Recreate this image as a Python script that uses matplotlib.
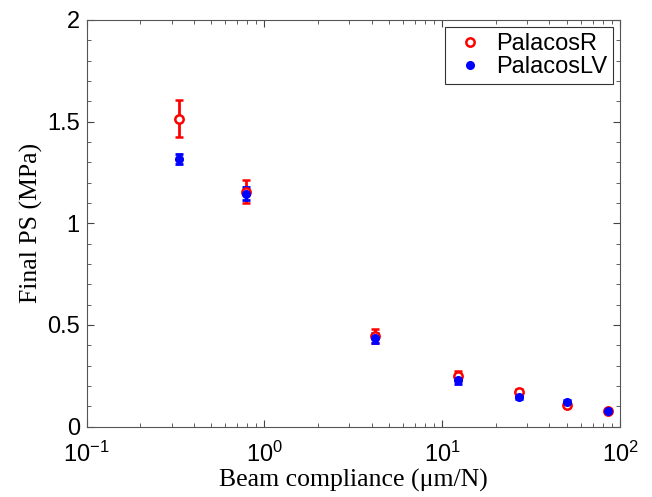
import matplotlib
matplotlib.use("Agg")
from matplotlib import pyplot as plt
import matplotlib.lines as mlines
from matplotlib.ticker import LogLocator, MultipleLocator, NullFormatter

# beam compliance (um/N)
compliance = [0.33, 0.79, 4.2, 12.3, 27.0, 50.0, 85.0]

# final PS (MPa) and error bars
palacos_r = [1.515, 1.156, 0.445, 0.250, 0.172, 0.105, 0.076]
palacos_r_err = [0.090, 0.057, 0.036, 0.022, 0.015, 0.008, 0.006]

palacos_lv = [1.315, 1.146, 0.437, 0.228, 0.145, 0.120, 0.077]
palacos_lv_err = [0.024, 0.032, 0.026, 0.020, 0.008, 0.009, 0.006]

y_ticks = [0, 0.5, 1, 1.5, 2]
y_ticklabels = ['0', '0.5', '1', '1.5', '2']

sans = ['Liberation Sans', 'DejaVu Sans']
serif = ['Liberation Serif', 'DejaVu Serif']

plt.rcParams['mathtext.fontset'] = 'custom'
plt.rcParams['mathtext.rm'] = 'Liberation Sans'
plt.rcParams['mathtext.it'] = 'Liberation Sans:italic'
plt.rcParams['mathtext.bf'] = 'Liberation Sans:bold'
plt.rcParams['mathtext.default'] = 'regular'

fig = plt.figure(figsize=(6.52, 4.97), dpi=100)
ax = fig.add_axes([0.133, 0.1415, 0.818, 0.8185])

ax.errorbar(compliance, palacos_r, yerr=palacos_r_err, fmt='o', color='red',
            mfc='white', mec='red', ms=6, mew=1.8, elinewidth=2,
            capsize=3, capthick=2)
ax.errorbar(compliance, palacos_lv, yerr=palacos_lv_err, fmt='o', color='blue',
            mfc='blue', mec='blue', ms=5.5, elinewidth=2,
            capsize=3, capthick=2)

ax.set_xscale('log')
ax.set_xlim(0.1, 100)
ax.set_ylim(0, 2)
ax.xaxis.set_major_locator(LogLocator(base=10, numticks=10))
ax.xaxis.set_minor_locator(LogLocator(base=10, subs=range(2, 10), numticks=20))
ax.xaxis.set_minor_formatter(NullFormatter())
ax.yaxis.set_minor_locator(MultipleLocator(0.1))
ax.set_yticks(y_ticks)
ax.set_yticklabels(y_ticklabels)

ax.tick_params(which='both', direction='in', top=True, right=True, colors='#444444',
               labelcolor='black', labelsize=17)
ax.tick_params(which='major', length=5)
ax.tick_params(which='minor', length=3)
ax.tick_params(axis='x', pad=11)
ax.tick_params(axis='y', pad=5)
for lab in ax.get_xticklabels() + ax.get_yticklabels():
    lab.set_family(sans)
for s in ax.spines.values():
    s.set_color('#555555')

ax.set_xlabel('Beam compliance (\u03bcm/N)', fontsize=18.5, family=serif, labelpad=1)
ax.set_ylabel('Final PS (MPa)', fontsize=18.5, family=serif, labelpad=3)

# legend markers without error bars
h1 = mlines.Line2D([], [], ls='none', marker='o', mfc='white', mec='red', ms=6, mew=1.8)
h2 = mlines.Line2D([], [], ls='none', marker='o', mfc='blue', mec='blue', ms=5.5)
leg = ax.legend([h1, h2], ['PalacosR', 'PalacosLV'], loc='upper right',
                prop={'family': sans, 'size': 17}, fancybox=False, edgecolor='#333333',
                framealpha=1, handletextpad=0.3, borderaxespad=0.3, handlelength=1.6,
                labelspacing=0.05, borderpad=0.25)
leg.get_frame().set_linewidth(0.8)

fig.savefig('out.png', dpi=100)
